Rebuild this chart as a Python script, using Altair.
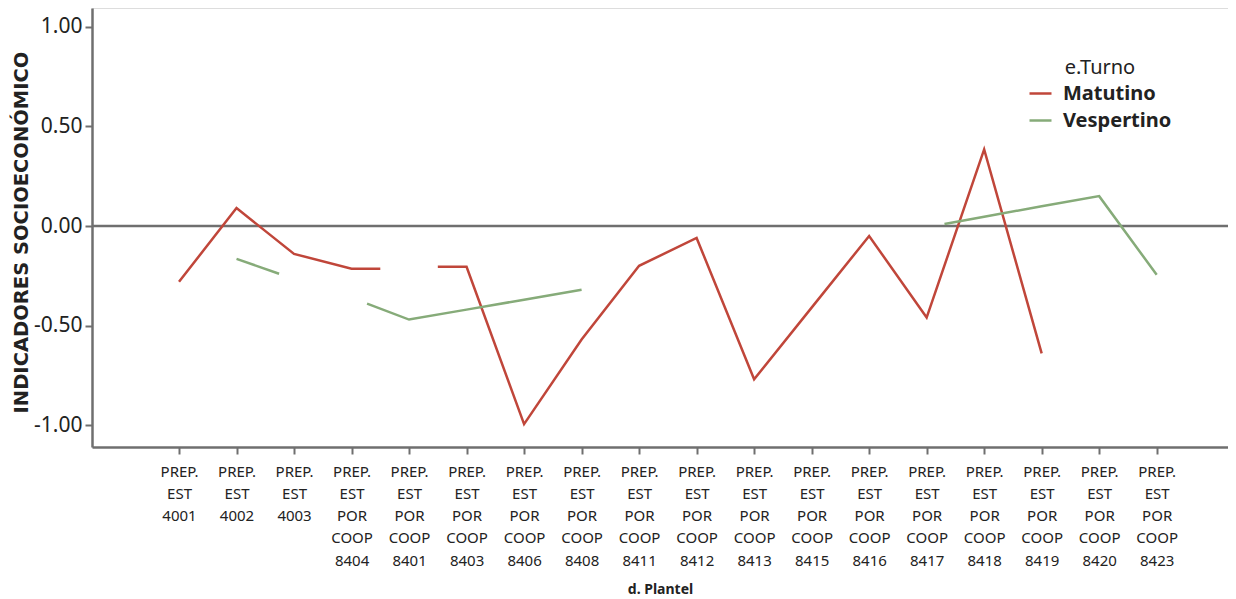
import json
import altair as alt
import pandas as pd

# Category labels on the x axis (lines separated by "|")
plantel = [
    "PREP.|EST|4001", "PREP.|EST|4002", "PREP.|EST|4003",
    "PREP.|EST|POR|COOP|8404", "PREP.|EST|POR|COOP|8401", "PREP.|EST|POR|COOP|8403",
    "PREP.|EST|POR|COOP|8406", "PREP.|EST|POR|COOP|8408", "PREP.|EST|POR|COOP|8411",
    "PREP.|EST|POR|COOP|8412", "PREP.|EST|POR|COOP|8413", "PREP.|EST|POR|COOP|8415",
    "PREP.|EST|POR|COOP|8416", "PREP.|EST|POR|COOP|8417", "PREP.|EST|POR|COOP|8418",
    "PREP.|EST|POR|COOP|8419", "PREP.|EST|POR|COOP|8420", "PREP.|EST|POR|COOP|8423",
]

# Matutino series (position on the category axis, value, segment id)
mat_pos = [0, 1, 2, 3, 3.5, 4.5, 5, 6, 7, 8, 9, 10, 11, 12, 13, 14, 15]
mat_val = [-0.28, 0.09, -0.14, -0.215, -0.215, -0.205, -0.205, -0.995, -0.57, -0.20,
           -0.06, -0.77, -0.41, -0.05, -0.46, 0.385, -0.64]
mat_seg = [1, 1, 1, 1, 1, 2, 2, 2, 2, 2, 2, 2, 2, 2, 2, 2, 2]

# Vespertino series
ves_pos = [1, 1.74, 3.27, 4, 5, 6, 7, 13.31, 14, 15, 16, 17]
ves_val = [-0.165, -0.24, -0.39, -0.47, -0.42, -0.37, -0.32, 0.01, 0.047, 0.099, 0.15, -0.245]
ves_seg = [1, 1, 2, 2, 2, 2, 2, 3, 3, 3, 3, 3]

y_ticks = [-1.0, -0.5, 0.0, 0.5, 1.0]
turnos = ["Matutino", "Vespertino"]
colores = ["#c0463a", "#86ab79"]

rows = []
for p, v, s in zip(mat_pos, mat_val, mat_seg):
    rows.append({"pos": p, "val": v, "turno": "Matutino", "seg": f"M{s}"})
for p, v, s in zip(ves_pos, ves_val, ves_seg):
    rows.append({"pos": p, "val": v, "turno": "Vespertino", "seg": f"V{s}"})
df = pd.DataFrame(rows)

arr = "[" + ",".join(json.dumps(l) for l in plantel) + "]"
label_expr = f"split({arr}[round(datum.value)], '|')"

FONT = "Noto Sans"
GRAY = "#6f6f6f"
TXT = "#222222"

x_enc = alt.X(
    "pos:Q",
    scale=alt.Scale(domain=[-1.513, 18.24], nice=False, zero=False),
    axis=alt.Axis(
        values=list(range(len(plantel))),
        labelExpr=label_expr,
        title="d. Plantel",
        titleFont=FONT, titleFontSize=14, titleFontWeight="bold", titleColor=TXT,
        titleX=568, titleY=142, titleAnchor="start", titleAlign="center", titleBaseline="middle",
        labelFont=FONT, labelFontSize=15, labelColor=TXT, labelLineHeight=22.3,
        labelPadding=10, labelAngle=0,
        domainColor=GRAY, domainWidth=2.5, tickColor=GRAY, tickWidth=2, tickSize=7,
        grid=False,
    ),
)
y_enc = alt.Y(
    "val:Q",
    scale=alt.Scale(domain=[-1.11, 1.095], nice=False, zero=False),
    axis=alt.Axis(
        values=y_ticks,
        labelExpr="replace(format(datum.value, '.2f'), '\u2212', '-')",
        title="INDICADORES  SOCIOECONÓMICO",
        titleFont="DejaVu Sans", titleFontSize=19.5, titleFontWeight="bold", titleColor=TXT,
        titleAngle=270, titleX=-71, titleY=224, titleAlign="center", titleBaseline="middle",
        titleAnchor="start",
        labelFont=FONT, labelFontSize=21, labelColor=TXT, labelPadding=3,
        domainColor=GRAY, domainWidth=2.5, tickColor=GRAY, tickWidth=2, tickSize=7,
        grid=False,
    ),
)

lines = alt.Chart(df).mark_line(strokeWidth=2.5).encode(
    x=x_enc,
    y=y_enc,
    color=alt.Color(
        "turno:N",
        scale=alt.Scale(domain=turnos, range=colores),
        legend=alt.Legend(
            title="e.Turno", orient="none", legendX=936, legendY=50,
            titleFont=FONT, titleFontSize=20, titleFontWeight="normal", titleColor=TXT,
            titleAnchor="middle", titlePadding=3,
            labelFont=FONT, labelFontSize=20, labelFontWeight="bold", labelColor=TXT,
            symbolType="stroke", symbolSize=484, symbolStrokeWidth=2.5,
            rowPadding=4, labelOffset=10,
        ),
    ),
    detail="seg:N",
)

zero = alt.Chart(pd.DataFrame({"v": [0.0]})).mark_rule(color=GRAY, strokeWidth=2.5).encode(
    y=alt.Y("v:Q")
)

chart = (
    alt.layer(zero, lines)
    .properties(
        width=1136, height=439,
        autosize=alt.AutoSizeParams(type="none"),
        padding={"left": 84, "top": 0, "right": 0, "bottom": 150},
    )
    .configure_view(stroke=None)
    .configure(background="white")
)

chart.save("out.html", embed_options={"renderer": "svg", "actions": False})
